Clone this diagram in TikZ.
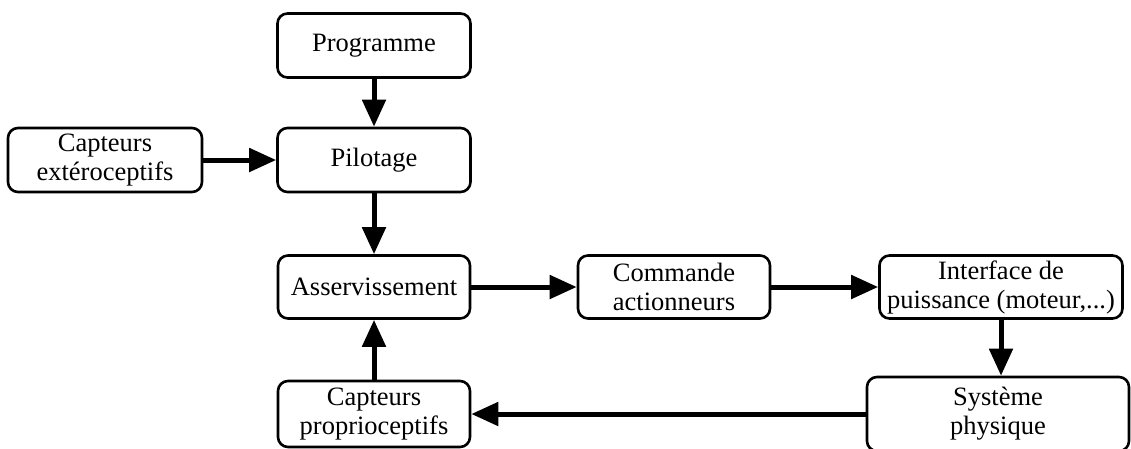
\documentclass[tikz,border=0pt]{standalone}
\usepackage{fontspec}
\setmainfont{Liberation Serif}
\usetikzlibrary{arrows.meta}
\tikzset{
  blk/.style={draw, line width=2.6pt, rounded corners=10pt, rectangle, align=center, inner sep=0pt,
    font=\fontsize{26.5}{29}\selectfont, fill=white},
  arr/.style={line width=5pt, -{Triangle[length=27pt,width=23pt]}}
}
\begin{document}
\begin{tikzpicture}[x=1pt,y=-1pt]
\clip (0,0) rectangle (1131,448);
\fill[white] (0,0) rectangle (1131,448);
\node[blk, minimum width=193pt, minimum height=64pt] (prog) at (374,45.5) {Programme};
\node[blk, minimum width=193pt, minimum height=64pt] (pil) at (374,160) {Pilotage};
\node[blk, minimum width=194pt, minimum height=64pt] (ext) at (105,160) {Capteurs\\extéroceptifs};
\node[blk, minimum width=192pt, minimum height=63pt] (ass) at (374,287) {Asservissement};
\node[blk, minimum width=192pt, minimum height=63pt] (cmd) at (674,287) {Commande\\actionneurs};
\node[blk, minimum width=243pt, minimum height=63pt] (intf) at (1001,287) {Interface de\\puissance (moteur,...)};
\node[blk, minimum width=262pt, minimum height=74pt] (sys) at (998,414) {Système\\physique};
\node[blk, minimum width=192pt, minimum height=66pt] (pro) at (374,414) {Capteurs\\proprioceptifs};
\draw[arr] (prog.south) -- (pil.north);
\draw[arr] (ext.east) -- (pil.west);
\draw[arr] (pil.south) -- (ass.north);
\draw[arr] (ass.east) -- (cmd.west);
\draw[arr] (cmd.east) -- (intf.west);
\draw[arr] (intf.south) -- (intf.south |- sys.north);
\draw[arr] (sys.west) -- (pro.east);
\draw[arr] (pro.north) -- (ass.south);
\end{tikzpicture}
\end{document}
